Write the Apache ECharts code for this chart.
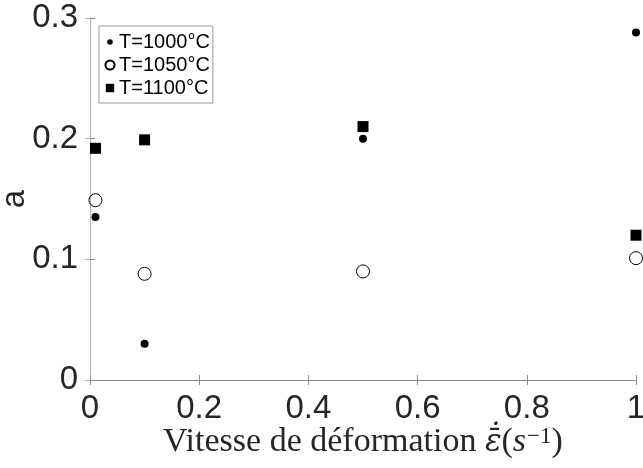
<!DOCTYPE html>
<html>
<head>
<meta charset="utf-8">
<script src="https://cdn.jsdelivr.net/npm/echarts@6/dist/echarts.min.js"></script>
<style>html,body{margin:0;padding:0;background:#fff}#c{width:643px;height:468px}</style>
</head>
<body>
<div id="c"></div>
<script>
var strainRates = [0.01, 0.1, 0.5, 1];
var seriesNames = ['T=1000°C', 'T=1050°C', 'T=1100°C'];
var a1000 = [0.135, 0.030, 0.200, 0.288];
var a1050 = [0.149, 0.088, 0.090, 0.101];
var a1100 = [0.192, 0.199, 0.210, 0.120];
var xTicks = [0, 0.2, 0.4, 0.6, 0.8, 1];
var yTicks = [0, 0.1, 0.2, 0.3];

function pairs(vals) { return strainRates.map(function (x, i) { return [x, vals[i]]; }); }
function fmt(v) { return String(+v.toFixed(1)); }

var chart = echarts.init(document.getElementById('c'), null, { renderer: 'canvas' });
var labelFont = 'Liberation Sans, Arial, sans-serif';
var serif = 'Liberation Serif, DejaVu Serif, serif';
var axisCol = '#8a8a8a';
chart.setOption({
  animation: false,
  backgroundColor: '#fff',
  grid: { left: 90, right: 7, top: 18, bottom: 88, containLabel: false, outerBoundsMode: 'none' },
  legend: {
    orient: 'vertical', left: 99, top: 26,
    backgroundColor: '#fff', borderColor: '#999', borderWidth: 1,
    padding: [6, 3, 5, 3], itemGap: 3, itemWidth: 14, itemHeight: 16,
    textStyle: { fontFamily: labelFont, fontSize: 20, color: '#000', padding: [0, 0, 0, -3] },
    data: [
      { name: seriesNames[0], icon: 'path://M0,0M20,20M6,10A4,4,0,1,1,14,10A4,4,0,1,1,6,10Z' },
      { name: seriesNames[1], icon: 'path://M0,0M20,20M3.5,10A6.5,6.5,0,1,1,16.5,10A6.5,6.5,0,1,1,3.5,10Z' },
      { name: seriesNames[2], icon: 'path://M0,0M20,20M4,4L16,4L16,16L4,16Z' }
    ]
  },
  xAxis: [{
    type: 'value', min: 0, max: 1, interval: 0.2, position: 'bottom',
    name: '{t|Vitesse de déformation }{e|ε̄̇}{t|(}{i|s}{s|−1}{t|)}',
    nameLocation: 'middle', nameGap: 45, nameMoveOverlap: false,
    nameTextStyle: { rich: {
      t: { fontFamily: serif, fontSize: 34, color: '#262626' },
      e: { fontFamily: 'DejaVu Serif, serif', fontStyle: 'italic', fontSize: 31, color: '#262626' },
      i: { fontFamily: serif, fontStyle: 'italic', fontSize: 34, color: '#262626' },
      s: { fontFamily: serif, fontSize: 23, color: '#262626', verticalAlign: 'top', padding: [0, 0, 12, 1] }
    } },
    axisLine: { show: true, lineStyle: { color: axisCol, width: 1 } },
    axisTick: { show: true, inside: true, length: 5, lineStyle: { color: axisCol } },
    axisLabel: { fontFamily: labelFont, fontSize: 33, color: '#262626', margin: 12, formatter: fmt },
    splitLine: { show: false }
  }, {
    type: 'value', min: 0, max: 1, interval: 0.2, position: 'top',
    axisLine: { show: true, lineStyle: { color: axisCol, width: 1 } },
    axisTick: { show: true, inside: true, length: 5, lineStyle: { color: axisCol } },
    axisLabel: { show: false }, splitLine: { show: false }
  }],
  yAxis: [{
    type: 'value', min: 0, max: 0.3, interval: 0.1, position: 'left',
    name: 'a', nameLocation: 'middle', nameGap: 59, nameRotate: 90, nameMoveOverlap: false,
    nameTextStyle: { fontFamily: labelFont, fontSize: 33, color: '#262626' },
    axisLine: { show: true, lineStyle: { color: axisCol, width: 1 } },
    axisTick: { show: true, inside: true, length: 5, lineStyle: { color: axisCol } },
    axisLabel: { fontFamily: labelFont, fontSize: 33, color: '#262626', margin: 12, formatter: fmt },
    splitLine: { show: false }
  }, {
    type: 'value', min: 0, max: 0.3, interval: 0.1, position: 'right',
    axisLine: { show: true, lineStyle: { color: '#b5b5b5', width: 1 } },
    axisTick: { show: true, inside: true, length: 5, lineStyle: { color: '#b5b5b5' } },
    axisLabel: { show: false }, splitLine: { show: false }
  }],
  series: [
    { name: seriesNames[0], type: 'scatter', symbol: 'circle', symbolSize: 8,
      itemStyle: { color: '#000', opacity: 1 }, data: pairs(a1000), z: 3 },
    { name: seriesNames[1], type: 'scatter', symbol: 'circle', symbolSize: 13,
      itemStyle: { color: 'rgba(255,255,255,0)', borderColor: '#000', borderWidth: 1, opacity: 1 }, data: pairs(a1050), z: 2 },
    { name: seriesNames[2], type: 'scatter', symbol: 'rect', symbolSize: 11,
      itemStyle: { color: '#000', opacity: 1 }, data: pairs(a1100), z: 2 }
  ]
});
</script>
</body>
</html>
